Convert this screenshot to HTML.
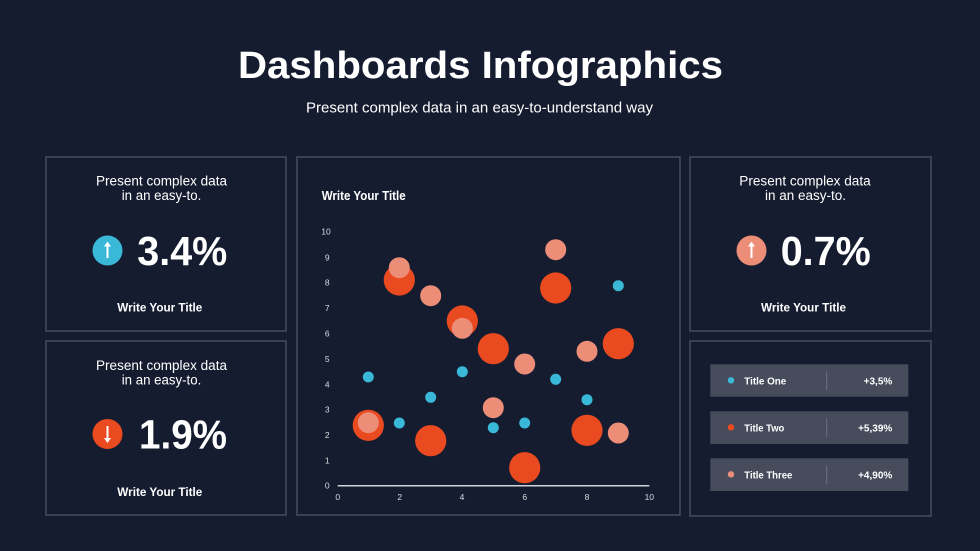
<!DOCTYPE html>
<html>
<head>
<meta charset="utf-8">
<style>
  html,body{margin:0;padding:0;background:#151c2f;}
  body{width:980px;height:551px;overflow:hidden;}
  svg{display:block;}
  text{font-family:"Liberation Sans", sans-serif;}
</style>
</head>
<body>
<svg width="980" height="551" viewBox="0 0 980 551" xmlns="http://www.w3.org/2000/svg">
  <rect x="0" y="0" width="980" height="551" fill="#151c2f"/>

  <!-- Header -->
  <text x="238" y="78" font-size="38" font-weight="bold" fill="#ffffff" textLength="485" lengthAdjust="spacingAndGlyphs">Dashboards Infographics</text>
  <text x="306" y="112.5" font-size="15" fill="#ffffff" textLength="347" lengthAdjust="spacingAndGlyphs">Present complex data in an easy-to-understand way</text>

  <!-- Card borders -->
  <g fill="none" stroke="#454c60" stroke-width="1.5">
    <rect x="46" y="157" width="240" height="174"/>
    <rect x="46" y="341" width="240" height="174"/>
    <rect x="297" y="157" width="383" height="358"/>
    <rect x="690" y="157" width="241" height="174"/>
    <rect x="690" y="341" width="241" height="175"/>
  </g>

  <!-- Card 1 (top-left) -->
  <text x="96" y="185.5" font-size="13.5" fill="#ffffff" textLength="131" lengthAdjust="spacingAndGlyphs">Present complex data</text>
  <text x="121.7" y="200" font-size="13.5" fill="#ffffff" textLength="79.6" lengthAdjust="spacingAndGlyphs">in an easy-to.</text>
  <circle cx="107.5" cy="250.5" r="15" fill="#3ab8d8"/>
  <line x1="107.5" y1="245" x2="107.5" y2="258" stroke="#ffffff" stroke-width="2"/>
  <polygon points="104,246.5 111,246.5 107.5,241.5" fill="#ffffff"/>
  <text x="137.3" y="265" font-size="41" font-weight="bold" fill="#ffffff" textLength="90" lengthAdjust="spacingAndGlyphs">3.4%</text>
  <text x="117.3" y="311.5" font-size="12" font-weight="bold" fill="#ffffff" textLength="85" lengthAdjust="spacingAndGlyphs">Write Your Title</text>

  <!-- Card 2 (bottom-left) -->
  <text x="96" y="370" font-size="13.5" fill="#ffffff" textLength="131" lengthAdjust="spacingAndGlyphs">Present complex data</text>
  <text x="121.7" y="384.5" font-size="13.5" fill="#ffffff" textLength="79.6" lengthAdjust="spacingAndGlyphs">in an easy-to.</text>
  <circle cx="107.5" cy="434" r="15" fill="#ea4a1f"/>
  <line x1="107.5" y1="426" x2="107.5" y2="439.5" stroke="#ffffff" stroke-width="2"/>
  <polygon points="104,438 111,438 107.5,443" fill="#ffffff"/>
  <text x="139" y="448.5" font-size="41" font-weight="bold" fill="#ffffff" textLength="88" lengthAdjust="spacingAndGlyphs">1.9%</text>
  <text x="117.3" y="496" font-size="12" font-weight="bold" fill="#ffffff" textLength="85" lengthAdjust="spacingAndGlyphs">Write Your Title</text>

  <!-- Card 3 (top-right) -->
  <text x="739.3" y="185.5" font-size="13.5" fill="#ffffff" textLength="131.4" lengthAdjust="spacingAndGlyphs">Present complex data</text>
  <text x="765" y="200" font-size="13.5" fill="#ffffff" textLength="81" lengthAdjust="spacingAndGlyphs">in an easy-to.</text>
  <circle cx="751.5" cy="250.5" r="15" fill="#ec8d78"/>
  <line x1="751.5" y1="245" x2="751.5" y2="258" stroke="#ffffff" stroke-width="2"/>
  <polygon points="748,246.5 755,246.5 751.5,241.5" fill="#ffffff"/>
  <text x="780.7" y="265" font-size="41" font-weight="bold" fill="#ffffff" textLength="90" lengthAdjust="spacingAndGlyphs">0.7%</text>
  <text x="761" y="311.5" font-size="12" font-weight="bold" fill="#ffffff" textLength="85" lengthAdjust="spacingAndGlyphs">Write Your Title</text>

  <!-- Card 4 (bottom-right) legend rows -->
  <rect x="710.3" y="364.3" width="198" height="32.4" fill="#474c5d"/>
  <rect x="710.3" y="411.3" width="198" height="32.7" fill="#474c5d"/>
  <rect x="710.3" y="458.3" width="198" height="32.7" fill="#474c5d"/>
  <g stroke="#6b7182" stroke-width="1">
    <line x1="826.7" y1="371.5" x2="826.7" y2="390"/>
    <line x1="826.7" y1="418.5" x2="826.7" y2="437"/>
    <line x1="826.7" y1="465.5" x2="826.7" y2="484"/>
  </g>
  <circle cx="731" cy="380.3" r="3.2" fill="#3ab8d8"/>
  <circle cx="731" cy="427.3" r="3.2" fill="#ea4a1f"/>
  <circle cx="731" cy="474.3" r="3.2" fill="#ec8d78"/>
  <text x="744.3" y="384.3" font-size="10" font-weight="bold" fill="#ffffff" textLength="42" lengthAdjust="spacingAndGlyphs">Title One</text>
  <text x="744.3" y="431.5" font-size="10" font-weight="bold" fill="#ffffff" textLength="40" lengthAdjust="spacingAndGlyphs">Title Two</text>
  <text x="744.3" y="478.3" font-size="10" font-weight="bold" fill="#ffffff" textLength="48" lengthAdjust="spacingAndGlyphs">Title Three</text>
  <text x="892.3" y="384.3" font-size="10" font-weight="bold" fill="#ffffff" text-anchor="end">+3,5%</text>
  <text x="892.3" y="431.5" font-size="10" font-weight="bold" fill="#ffffff" text-anchor="end">+5,39%</text>
  <text x="892.3" y="478.3" font-size="10" font-weight="bold" fill="#ffffff" text-anchor="end">+4,90%</text>

  <!-- Chart -->
  <text x="321.7" y="200" font-size="12.5" font-weight="bold" fill="#ffffff" textLength="84" lengthAdjust="spacingAndGlyphs">Write Your Title</text>

  <g font-size="8.5" fill="#d8dbe2" text-anchor="middle">
    <text x="326" y="234.7">10</text>
    <text x="327.3" y="260.3">9</text>
    <text x="327.3" y="285.7">8</text>
    <text x="327.3" y="311">7</text>
    <text x="327.3" y="336.7">6</text>
    <text x="327.3" y="362">5</text>
    <text x="327.3" y="387.3">4</text>
    <text x="327.3" y="412.7">3</text>
    <text x="327.3" y="438">2</text>
    <text x="327.3" y="463.7">1</text>
    <text x="327.3" y="488.7">0</text>

    <text x="337.7" y="500">0</text>
    <text x="399.7" y="500">2</text>
    <text x="462" y="500">4</text>
    <text x="524.7" y="500">6</text>
    <text x="587" y="500">8</text>
    <text x="649.3" y="500">10</text>
  </g>

  <line x1="337.7" y1="485.7" x2="649.3" y2="485.7" stroke="#d0d4dc" stroke-width="1.5"/>

  <!-- cyan bubbles -->
  <g fill="#3ab8d8">
    <circle cx="368.3" cy="377" r="5.5"/>
    <circle cx="399.3" cy="423" r="5.5"/>
    <circle cx="430.7" cy="397.3" r="5.5"/>
    <circle cx="462.3" cy="371.7" r="5.5"/>
    <circle cx="493.3" cy="427.7" r="5.5"/>
    <circle cx="524.7" cy="423" r="5.5"/>
    <circle cx="555.7" cy="379.3" r="5.5"/>
    <circle cx="587" cy="399.7" r="5.5"/>
    <circle cx="618.3" cy="285.7" r="5.5"/>
  </g>
  <!-- red bubbles -->
  <g fill="#ea4a1f">
    <circle cx="368.3" cy="425.3" r="15.6"/>
    <circle cx="399.3" cy="280" r="15.6"/>
    <circle cx="430.7" cy="440.7" r="15.6"/>
    <circle cx="462.3" cy="321" r="15.6"/>
    <circle cx="493.3" cy="348.7" r="15.6"/>
    <circle cx="524.7" cy="467.7" r="15.6"/>
    <circle cx="555.7" cy="288" r="15.6"/>
    <circle cx="587" cy="430.3" r="15.6"/>
    <circle cx="618.3" cy="343.7" r="15.6"/>
  </g>
  <!-- salmon bubbles -->
  <g fill="#ec8d78">
    <circle cx="368.3" cy="422.7" r="10.5"/>
    <circle cx="399.3" cy="267.7" r="10.5"/>
    <circle cx="430.7" cy="295.7" r="10.5"/>
    <circle cx="462.3" cy="328.3" r="10.5"/>
    <circle cx="493.3" cy="407.7" r="10.5"/>
    <circle cx="524.7" cy="364" r="10.5"/>
    <circle cx="555.7" cy="249.7" r="10.5"/>
    <circle cx="587" cy="351.3" r="10.5"/>
    <circle cx="618.3" cy="433" r="10.5"/>
  </g>
</svg>
</body>
</html>
